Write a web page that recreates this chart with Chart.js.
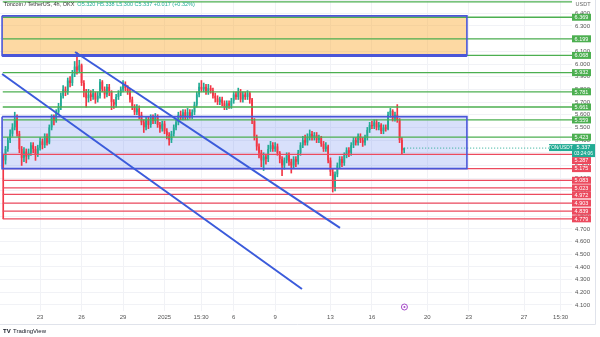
<!DOCTYPE html>
<html>
<head>
<meta charset="utf-8">
<script src="https://cdn.jsdelivr.net/npm/chart.js@4.4.1/dist/chart.umd.min.js"></script>
<style>
  html, body { margin: 0; padding: 0; background: #fff; }
</style>
</head>
<body>
<canvas id="chart" width="600" height="337"></canvas>
<script>
// TON/USDT 4h candles, time in days from Dec 20 00:00
const firstCandle = 0.3333;
const candleStep = 1 / 6;

const opens = [
  5.27, 5.24, 5.33, 5.40, 5.45, 5.50, 5.57, 5.45, 5.33, 5.26,
  5.31, 5.27, 5.30, 5.36, 5.33, 5.29, 5.34, 5.39, 5.36, 5.43,
  5.38, 5.50, 5.58, 5.55, 5.62, 5.66, 5.75, 5.80, 5.78, 5.87,
  5.85, 5.92, 5.98, 5.95, 5.99, 5.85, 5.78, 5.73, 5.76, 5.74,
  5.77, 5.72, 5.75, 5.86, 5.80, 5.76, 5.82, 5.78, 5.70, 5.68,
  5.74, 5.77, 5.80, 5.84, 5.81, 5.78, 5.72, 5.66, 5.62, 5.65,
  5.60, 5.54, 5.50, 5.56, 5.52, 5.58, 5.55, 5.58, 5.52, 5.49,
  5.53, 5.47, 5.44, 5.40, 5.45, 5.50, 5.54, 5.60, 5.58, 5.62,
  5.58, 5.62, 5.59, 5.62, 5.68, 5.76, 5.82, 5.80, 5.82, 5.78,
  5.81, 5.79, 5.75, 5.73, 5.70, 5.72, 5.69, 5.66, 5.69, 5.67,
  5.71, 5.76, 5.74, 5.78, 5.72, 5.76, 5.74, 5.77, 5.72, 5.55,
  5.42, 5.35, 5.30, 5.24, 5.27, 5.25, 5.33, 5.36, 5.33, 5.35,
  5.30, 5.25, 5.20, 5.24, 5.28, 5.23, 5.20, 5.25, 5.23, 5.30,
  5.36, 5.40, 5.38, 5.42, 5.45, 5.42, 5.44, 5.40, 5.42, 5.37,
  5.33, 5.35, 5.24, 5.15, 5.03, 5.13, 5.20, 5.25, 5.22, 5.28,
  5.32, 5.30, 5.36, 5.40, 5.38, 5.43, 5.40, 5.38, 5.42, 5.48,
  5.52, 5.51, 5.54, 5.50, 5.52, 5.47, 5.50, 5.49, 5.60, 5.63,
  5.57, 5.60, 5.56, 5.40, 5.32
];
const highs = [
  5.29, 5.35, 5.42, 5.48, 5.53, 5.62, 5.60, 5.47, 5.35, 5.34,
  5.33, 5.33, 5.38, 5.38, 5.35, 5.36, 5.42, 5.41, 5.45, 5.45,
  5.52, 5.60, 5.60, 5.64, 5.69, 5.77, 5.83, 5.82, 5.89, 5.90,
  5.95, 6.02, 6.09, 6.03, 6.00, 5.87, 5.80, 5.80, 5.79, 5.80,
  5.78, 5.78, 5.88, 5.87, 5.82, 5.84, 5.84, 5.79, 5.72, 5.76,
  5.79, 5.82, 5.87, 5.86, 5.83, 5.80, 5.74, 5.68, 5.68, 5.67,
  5.62, 5.56, 5.58, 5.58, 5.60, 5.60, 5.61, 5.60, 5.54, 5.55,
  5.55, 5.49, 5.46, 5.47, 5.52, 5.56, 5.62, 5.63, 5.64, 5.64,
  5.65, 5.64, 5.64, 5.70, 5.78, 5.85, 5.87, 5.85, 5.84, 5.84,
  5.83, 5.81, 5.77, 5.75, 5.74, 5.74, 5.71, 5.71, 5.71, 5.73,
  5.78, 5.78, 5.81, 5.80, 5.78, 5.78, 5.79, 5.78, 5.73, 5.57,
  5.44, 5.37, 5.32, 5.30, 5.29, 5.36, 5.39, 5.38, 5.38, 5.37,
  5.31, 5.27, 5.26, 5.30, 5.30, 5.25, 5.27, 5.27, 5.32, 5.38,
  5.43, 5.44, 5.45, 5.48, 5.47, 5.46, 5.46, 5.44, 5.43, 5.39,
  5.38, 5.36, 5.26, 5.17, 5.15, 5.22, 5.27, 5.27, 5.30, 5.34,
  5.34, 5.38, 5.42, 5.42, 5.45, 5.45, 5.42, 5.44, 5.50, 5.54,
  5.55, 5.56, 5.56, 5.54, 5.53, 5.52, 5.52, 5.62, 5.65, 5.64,
  5.62, 5.68, 5.57, 5.42, 5.338
];
const lows = [
  4.78, 5.21, 5.31, 5.38, 5.43, 5.48, 5.43, 5.30, 5.20, 5.23,
  5.22, 5.25, 5.28, 5.30, 5.24, 5.27, 5.32, 5.33, 5.34, 5.36,
  5.37, 5.48, 5.52, 5.54, 5.60, 5.64, 5.73, 5.75, 5.76, 5.82,
  5.83, 5.90, 5.92, 5.93, 5.83, 5.74, 5.66, 5.70, 5.71, 5.72,
  5.69, 5.70, 5.73, 5.78, 5.73, 5.74, 5.75, 5.64, 5.65, 5.66,
  5.72, 5.75, 5.78, 5.79, 5.76, 5.70, 5.64, 5.60, 5.60, 5.57,
  5.52, 5.46, 5.48, 5.49, 5.50, 5.53, 5.53, 5.50, 5.46, 5.47,
  5.45, 5.41, 5.36, 5.38, 5.43, 5.48, 5.52, 5.56, 5.56, 5.56,
  5.56, 5.57, 5.57, 5.60, 5.66, 5.74, 5.78, 5.78, 5.76, 5.76,
  5.77, 5.73, 5.70, 5.68, 5.68, 5.67, 5.64, 5.64, 5.65, 5.65,
  5.69, 5.72, 5.72, 5.70, 5.70, 5.72, 5.72, 5.69, 5.53, 5.40,
  5.32, 5.26, 5.19, 5.16, 5.21, 5.23, 5.31, 5.31, 5.31, 5.28,
  5.22, 5.12, 5.17, 5.22, 5.20, 5.14, 5.18, 5.19, 5.21, 5.28,
  5.34, 5.36, 5.36, 5.40, 5.40, 5.40, 5.38, 5.38, 5.35, 5.31,
  5.31, 5.22, 5.12, 4.99, 5.00, 5.11, 5.18, 5.19, 5.20, 5.26,
  5.27, 5.28, 5.34, 5.36, 5.36, 5.38, 5.35, 5.36, 5.40, 5.46,
  5.49, 5.49, 5.48, 5.48, 5.45, 5.45, 5.47, 5.48, 5.58, 5.55,
  5.55, 5.54, 5.38, 5.29, 5.30
];
const closes = [
  5.24, 5.33, 5.40, 5.45, 5.50, 5.57, 5.45, 5.33, 5.26, 5.31,
  5.27, 5.30, 5.36, 5.33, 5.29, 5.34, 5.39, 5.36, 5.43, 5.38,
  5.50, 5.58, 5.55, 5.62, 5.66, 5.75, 5.80, 5.78, 5.87, 5.85,
  5.92, 5.98, 5.95, 5.99, 5.85, 5.78, 5.73, 5.76, 5.74, 5.77,
  5.72, 5.75, 5.86, 5.80, 5.76, 5.82, 5.78, 5.70, 5.68, 5.74,
  5.77, 5.80, 5.84, 5.81, 5.78, 5.72, 5.66, 5.62, 5.65, 5.60,
  5.54, 5.50, 5.56, 5.52, 5.58, 5.55, 5.58, 5.52, 5.49, 5.53,
  5.47, 5.44, 5.40, 5.45, 5.50, 5.54, 5.60, 5.58, 5.62, 5.58,
  5.62, 5.59, 5.62, 5.68, 5.76, 5.82, 5.80, 5.82, 5.78, 5.81,
  5.79, 5.75, 5.73, 5.70, 5.72, 5.69, 5.66, 5.69, 5.67, 5.71,
  5.76, 5.74, 5.78, 5.72, 5.76, 5.74, 5.77, 5.72, 5.55, 5.42,
  5.35, 5.30, 5.24, 5.27, 5.25, 5.33, 5.36, 5.33, 5.35, 5.30,
  5.25, 5.20, 5.24, 5.28, 5.23, 5.20, 5.25, 5.23, 5.30, 5.36,
  5.40, 5.38, 5.42, 5.45, 5.42, 5.44, 5.40, 5.42, 5.37, 5.33,
  5.35, 5.24, 5.15, 5.03, 5.13, 5.20, 5.25, 5.22, 5.28, 5.32,
  5.30, 5.36, 5.40, 5.38, 5.43, 5.40, 5.38, 5.42, 5.48, 5.52,
  5.51, 5.54, 5.50, 5.52, 5.47, 5.50, 5.49, 5.60, 5.63, 5.57,
  5.60, 5.56, 5.40, 5.32, 5.337
];

// horizontal levels
const greenLevels = [6.369, 6.199, 6.068, 5.932, 5.781, 5.661, 5.559, 5.423];
const redLevels = [5.287, 5.175, 5.083, 5.023, 4.972, 4.903, 4.839, 4.779];
const topLevel = 6.49;
const levelStart = 0.3;

// zones [x0, x1, top, bottom]
const orangeZone = [0.25, 33.87, 6.38, 6.068];
const blueZone = [0.25, 33.87, 5.585, 5.175];

// trend lines [x0, y0, x1, y1]
const upperTrend = [5.53, 6.095, 24.69, 4.707];
const lowerTrend = [0.25, 5.921, 21.94, 4.226];

// time axis
const tickDays = [3, 6, 9, 12, 14.646, 17, 20, 24, 27, 31, 34, 38, 40.646];
const tickLabels = ['23', '26', '29', '2025', '15:30', '6', '9', '13', '16', '20', '23', '27', '15:30'];
const xMin = 0.1, xMax = 41.47;
const yMin = 4.052, yMax = 6.505;

const lastPrice = 5.337;
const countdown = '03:24:06';

const UP = '#22ab94', DOWN = '#f23645';
const GREEN_LINE = '#4caf50', RED_LINE = '#ec4a5e';
const ZONE_BORDER = '#4a56d8', TREND = '#3b5bdb';

const times = closes.map((c, i) => firstCandle + i * candleStep);
const candleColors = closes.map((c, i) => c >= opens[i] ? UP : DOWN);

function hLine(v, color, order) {
  return {
    type: 'line', data: [{ x: levelStart, y: v }, { x: xMax, y: v }],
    borderColor: color, borderWidth: 1.3, pointRadius: 0, fill: false, order: order
  };
}
function zoneFill(z, color) {
  return {
    type: 'line', data: [{ x: z[0], y: z[2] }, { x: z[1], y: z[2] }],
    borderWidth: 0, pointRadius: 0, backgroundColor: color, fill: { value: z[3] }, order: 20
  };
}
function zoneBorder(z, width) {
  return {
    type: 'line',
    data: [{ x: z[0], y: z[2] }, { x: z[1], y: z[2] }, { x: z[1], y: z[3] }, { x: z[0], y: z[3] }, { x: z[0], y: z[2] }],
    borderColor: ZONE_BORDER, borderWidth: width, pointRadius: 0, fill: false, order: 2
  };
}
function trend(t) {
  return {
    type: 'line', data: [{ x: t[0], y: t[1] }, { x: t[2], y: t[3] }],
    borderColor: TREND, borderWidth: 2, pointRadius: 0, fill: false, order: 1
  };
}

const datasets = [
  zoneFill(orangeZone, 'rgba(251,170,50,0.45)'),
  zoneFill(blueZone, 'rgba(100,130,240,0.25)'),
  {
    type: 'bar', data: times.map((t, i) => ({ x: t, y: [lows[i], highs[i]] })),
    backgroundColor: candleColors, barThickness: 1, grouped: false, order: 11
  },
  {
    type: 'bar', data: times.map((t, i) => ({ x: t, y: [opens[i], closes[i]] })),
    backgroundColor: candleColors, barPercentage: 0.75, categoryPercentage: 1, grouped: false, order: 10
  },
  hLine(topLevel, GREEN_LINE, 4),
  ...greenLevels.map(v => hLine(v, GREEN_LINE, 4)),
  ...redLevels.map(v => hLine(v, RED_LINE, 4)),
  {
    type: 'line', data: [{ x: times[times.length - 1], y: lastPrice }, { x: xMax, y: lastPrice }],
    borderColor: '#22ab94', borderWidth: 1, borderDash: [1, 2], pointRadius: 0, fill: false, order: 3
  },
  zoneBorder(orangeZone, 1.6),
  zoneBorder(blueZone, 1.6),
  {
    type: 'line', data: [{ x: orangeZone[0], y: orangeZone[3] }, { x: orangeZone[1], y: orangeZone[3] }],
    borderColor: ZONE_BORDER, borderWidth: 3, pointRadius: 0, fill: false, order: 2
  },
  trend(upperTrend),
  trend(lowerTrend)
];

const overlay = {
  id: 'overlay',
  beforeDraw(chart) {
    const c = chart.ctx;
    c.save();
    c.strokeStyle = '#e0e3eb';
    c.lineWidth = 1;
    c.beginPath();
    c.moveTo(595.5, 0); c.lineTo(595.5, 324.5); c.lineTo(0, 324.5);
    c.stroke();
    c.restore();
  },
  afterDraw(chart) {
    const c = chart.ctx;
    const y = chart.scales.y, x = chart.scales.x;
    const left = chart.chartArea.right;
    const boxW = 19, boxH = 7;
    c.save();
    c.font = '5.5px Arial';
    c.textBaseline = 'middle';

    // current price block
    const cy = y.getPixelForValue(lastPrice);
    const curTop = cy - 4, curBot = cy + 9;

    const items = [];
    greenLevels.forEach(v => items.push({ v, color: GREEN_LINE }));
    redLevels.forEach(v => items.push({ v, color: RED_LINE }));
    items.forEach(it => { it.y = y.getPixelForValue(it.v); });
    items.sort((a, b) => a.y - b.y);
    let prevBot = -1e9;
    items.forEach(it => {
      let top = it.y - boxH / 2;
      if (top < prevBot) top = prevBot;
      if (top < curBot && top + boxH > curTop) top = curBot;
      prevBot = top + boxH;
      c.fillStyle = it.color;
      c.fillRect(left, top, boxW, boxH);
      c.fillStyle = '#fff';
      c.textAlign = 'center';
      c.fillText(it.v.toFixed(3), left + boxW / 2, top + boxH / 2 + 0.3);
    });

    c.fillStyle = '#22ab94';
    c.fillRect(left - 23, curTop, 23, boxH);
    c.fillRect(left, curTop, 23, curBot - curTop);
    c.fillStyle = '#fff';
    c.textAlign = 'center';
    c.font = '4.8px Arial';
    c.fillText('TON/USDT', left - 11.5, curTop + boxH / 2 + 0.3);
    c.font = '5.5px Arial';
    c.fillText(lastPrice.toFixed(3), left + 11.5, curTop + 3.5);
    c.font = '4.8px Arial';
    c.fillText(countdown, left + 11.5, curTop + 9.5);
    c.font = '5.5px Arial';

    // currency label
    c.fillStyle = '#666';
    c.fillText('USDT', left + 11, 4);

    // title
    c.textAlign = 'left';
    c.fillStyle = '#333';
    const head = 'Toncoin / TetherUS, 4h, OKX  ';
    c.fillText(head, 4, 4);
    const w = c.measureText(head).width;
    c.fillStyle = '#22ab94';
    c.fillText('O5.320 H5.338 L5.300 C5.337 +0.017 (+0.32%)', 4 + w, 4);

    // event marker
    const ex = x.getPixelForValue(29.35);
    const ey = chart.chartArea.bottom - 4;
    c.strokeStyle = '#a64ac9';
    c.lineWidth = 1;
    c.beginPath(); c.arc(ex, ey, 3, 0, Math.PI * 2); c.stroke();
    c.fillStyle = '#a64ac9';
    c.beginPath(); c.arc(ex, ey, 1, 0, Math.PI * 2); c.fill();

    // logo
    c.fillStyle = '#131722';
    c.font = 'bold 6px Arial';
    c.fillText('TV', 3, 331);
    c.font = '6px Arial';
    c.fillText('TradingView', 13, 331);
    c.restore();
  }
};

new Chart(document.getElementById('chart'), {
  type: 'bar',
  data: { datasets },
  plugins: [overlay],
  options: {
    responsive: false,
    devicePixelRatio: 1,
    animation: false,
    layout: { padding: 0 },
    plugins: { legend: { display: false }, tooltip: { enabled: false } },
    scales: {
      x: {
        type: 'linear', min: xMin, max: xMax, offset: false,
        afterBuildTicks: s => { s.ticks = tickDays.map(v => ({ value: v })); },
        afterFit: s => { s.height = 26; s.paddingLeft = 0; s.paddingRight = 0; },
        ticks: {
          autoSkip: false, maxRotation: 0, padding: 3,
          callback: (v, i) => tickLabels[i],
          font: { size: 6, family: 'Arial' }, color: '#555'
        },
        grid: { color: '#f1f2f6', drawTicks: false, offset: false },
        border: { display: false }
      },
      y: {
        position: 'right', min: yMin, max: yMax,
        afterFit: s => { s.width = 28; s.paddingTop = 0; s.paddingBottom = 0; },
        ticks: {
          stepSize: 0.1, includeBounds: false, padding: 3,
          callback: v => (v > 6.45 ? '' : v.toFixed(3)),
          font: { size: 6, family: 'Arial' }, color: '#555'
        },
        grid: { color: '#f1f2f6', drawTicks: false },
        border: { display: false }
      }
    }
  }
});
</script>
</body>
</html>
